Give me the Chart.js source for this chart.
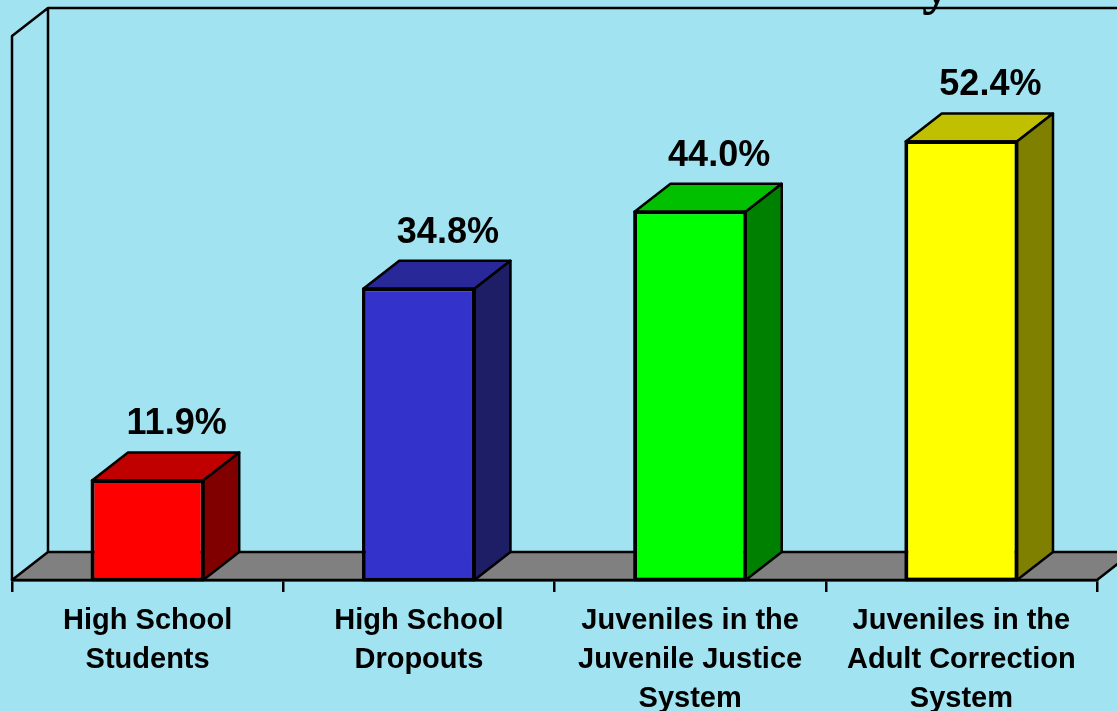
<!DOCTYPE html>
<html>
<head>
<meta charset="utf-8">
<script src="https://cdn.jsdelivr.net/npm/chart.js@4.4.0/dist/chart.umd.min.js"></script>
<style>
  html, body { margin: 0; padding: 0; background: #A1E3F0; overflow: hidden; }
</style>
</head>
<body>
<canvas id="chart" width="1117" height="711"></canvas>
<script>
// categories and values
const categories = [
    ['High School', 'Students'],
    ['High School', 'Dropouts'],
    ['Juveniles in the', 'Juvenile Justice', 'System'],
    ['Juveniles in the', 'Adult Correction', 'System']
];
const percentages = [11.9, 34.8, 44.0, 52.4];

// face colours: front, top (darker), side (darkest)
const frontColors = ['#FF0000', '#3333CC', '#00FF00', '#FFFF00'];
const topColors = ['#C00000', '#282899', '#00C000', '#C0C000'];
const sideColors = ['#800000', '#1E1E66', '#008000', '#808000'];

// 3D depth of the box
const DX = 36, DY = -28;

function poly(ctx, pts, fill) {
    ctx.beginPath();
    ctx.moveTo(pts[0][0], pts[0][1]);
    for (let i = 1; i < pts.length; i++) ctx.lineTo(pts[i][0], pts[i][1]);
    ctx.closePath();
    if (fill) { ctx.fillStyle = fill; ctx.fill(); }
    ctx.stroke();
}

const box3d = {
    id: 'box3d',
    beforeDatasetsDraw(chart) {
        const ctx = chart.ctx;
        const { left, right, top, bottom } = chart.chartArea;
        ctx.save();
        ctx.lineWidth = 2.5;
        ctx.strokeStyle = '#000';
        ctx.lineJoin = 'round';
        // back wall and left wall outline
        ctx.beginPath();
        ctx.moveTo(left, bottom);
        ctx.lineTo(left, top);
        ctx.lineTo(left + DX, top + DY);
        ctx.lineTo(chart.width + 60, top + DY);
        ctx.moveTo(left + DX, top + DY);
        ctx.lineTo(left + DX, bottom + DY);
        ctx.stroke();
        // floor
        poly(ctx, [[left, bottom], [right, bottom], [right + DX, bottom + DY], [left + DX, bottom + DY]], '#808080');
        ctx.restore();
    },
    afterDatasetsDraw(chart) {
        const ctx = chart.ctx;
        const meta = chart.getDatasetMeta(0);
        ctx.save();
        ctx.lineWidth = 2.5;
        ctx.strokeStyle = '#000';
        ctx.lineJoin = 'round';
        meta.data.forEach((bar, i) => {
            const { x, y, base, width } = bar.getProps(['x', 'y', 'base', 'width'], true);
            const l = x - width / 2, r = x + width / 2;
            poly(ctx, [[l, y], [r, y], [r + DX, y + DY], [l + DX, y + DY]], topColors[i]);
            poly(ctx, [[r, y], [r + DX, y + DY], [r + DX, base + DY], [r, base]], sideColors[i]);
            poly(ctx, [[l, y], [r, y], [r, base], [l, base]], null);
            // value label above the box
            ctx.fillStyle = '#000';
            ctx.font = 'bold 36px "Liberation Sans", Arial, sans-serif';
            ctx.textAlign = 'center';
            ctx.textBaseline = 'alphabetic';
            ctx.fillText(percentages[i].toFixed(1) + '%', x + 29, y - 46);
        });
        ctx.restore();
    },
    afterDraw(chart) {
        // tail of the slide title peeking in at the top
        const ctx = chart.ctx;
        ctx.save();
        ctx.fillStyle = '#000';
        ctx.font = 'bold 58px "Liberation Serif", "Times New Roman", serif';
        ctx.textAlign = 'left';
        ctx.textBaseline = 'alphabetic';
        ctx.fillText('y', 922, 3);
        ctx.restore();
    }
};

new Chart(document.getElementById('chart'), {
    type: 'bar',
    data: {
        labels: categories,
        datasets: [{
            data: percentages,
            backgroundColor: frontColors,
            borderColor: '#000',
            borderWidth: 2.5,
            borderSkipped: false,
            barPercentage: 0.41,
            categoryPercentage: 1
        }]
    },
    options: {
        responsive: false,
        animation: false,
        layout: { padding: { left: 12, right: 20, top: 36, bottom: 0 } },
        plugins: {
            legend: { display: false },
            tooltip: { enabled: false }
        },
        scales: {
            y: { display: false, min: 0, max: 65 },
            x: {
                grid: {
                    drawOnChartArea: false,
                    drawTicks: true,
                    tickLength: 12,
                    color: '#000',
                    lineWidth: 2.5,
                    offset: true
                },
                border: { display: true, color: '#000', width: 2.5 },
                ticks: {
                    color: '#000',
                    font: { family: '"Liberation Sans", Arial, sans-serif', size: 29, weight: 'bold', lineHeight: 1.34 },
                    padding: 10,
                    maxRotation: 0,
                    autoSkip: false
                },
                afterFit(scale) { scale.height = 131; }
            }
        }
    },
    plugins: [box3d]
});
</script>
</body>
</html>
